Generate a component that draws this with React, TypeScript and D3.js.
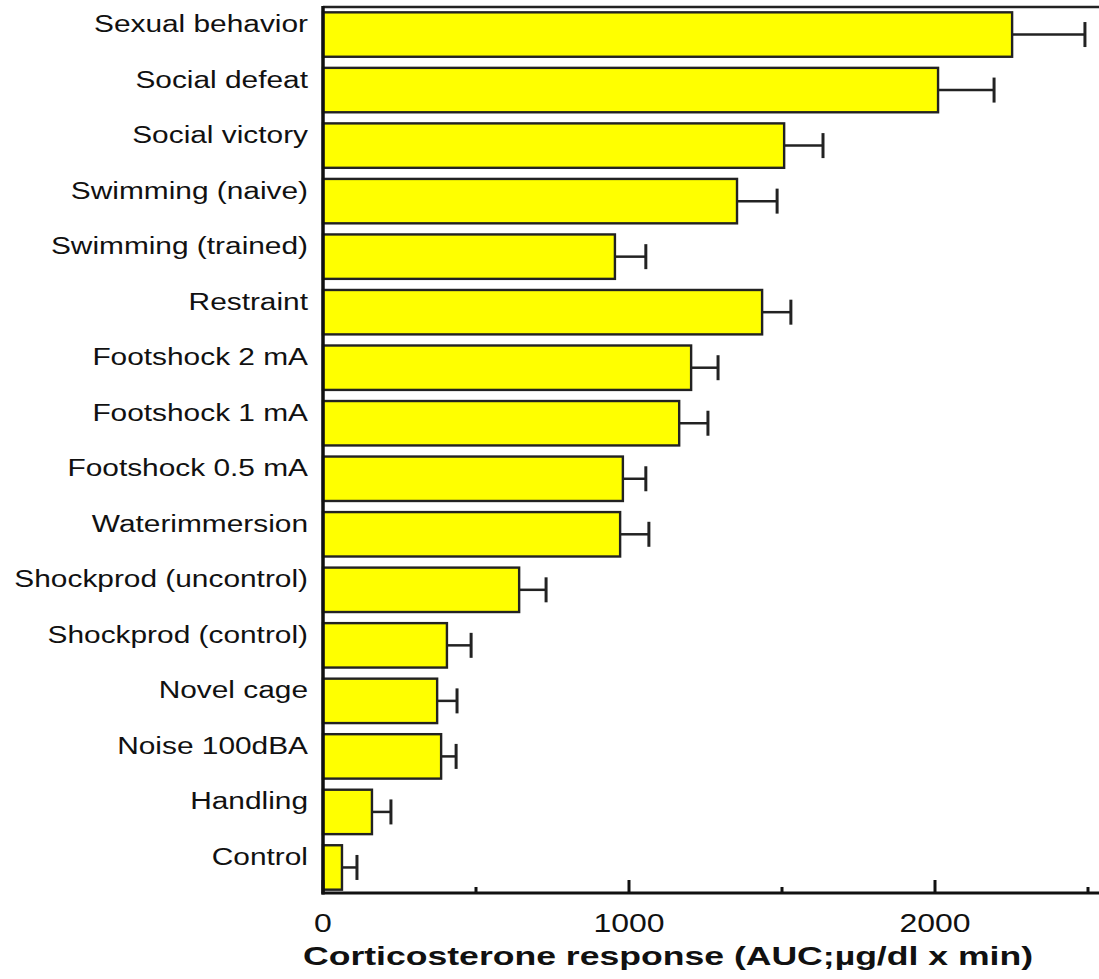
import React from "react";
import * as d3 from "d3";

const categories = [
  "Sexual behavior",
  "Social defeat",
  "Social victory",
  "Swimming (naive)",
  "Swimming (trained)",
  "Restraint",
  "Footshock 2 mA",
  "Footshock 1 mA",
  "Footshock 0.5 mA",
  "Waterimmersion",
  "Shockprod (uncontrol)",
  "Shockprod (control)",
  "Novel cage",
  "Noise 100dBA",
  "Handling",
  "Control",
];
const values = [2252, 2010, 1507, 1353, 954, 1435, 1203, 1164, 980, 971, 641, 405, 373, 386, 160, 62];
const errors = [238, 183, 127, 131, 101, 94, 88, 94, 75, 94, 88, 79, 65, 49, 62, 49];
const majorTicks = [0, 1000, 2000];
const minorTicks = [500, 1500, 2500];
const xTitle = "Corticosterone response (AUC;\u00b5g/dl x min)";

const W = 1099;
const H = 979;
const FONT = "'Liberation Sans', Arial, Helvetica, sans-serif";

export default function App() {
  const x = d3.scaleLinear().domain([0, 2500]).range([323, 1088]);
  const y = d3
    .scaleBand<string>()
    .domain(categories)
    .range([9, 893])
    .paddingInner(0.2)
    .paddingOuter(0.06);
  const bw = y.bandwidth();
  const axisY = 893;
  const capH = 25;
  const sx = 1.27;

  return (
    <svg
      width={W}
      height={H}
      style={{ position: "absolute", left: 0, top: 0, background: "#fff" }}
      fontFamily={FONT}
    >
      <rect x={0} y={0} width={W} height={H} fill="#fff" />
      {/* top frame */}
      <line x1={x(0)} x2={W} y1={7} y2={7} stroke="#222" strokeWidth={2.5} />
      {/* bars */}
      {categories.map((c, i) => {
        const y0 = y(c)!;
        const cy = y0 + bw / 2;
        const v = values[i];
        const e = errors[i];
        return (
          <g key={c}>
            <line x1={x(v)} x2={x(v + e)} y1={cy} y2={cy} stroke="#222" strokeWidth={2.5} />
            <line
              x1={x(v + e)}
              x2={x(v + e)}
              y1={cy - capH / 2}
              y2={cy + capH / 2}
              stroke="#222"
              strokeWidth={3}
            />
            <rect
              x={x(0)}
              y={y0}
              width={x(v) - x(0)}
              height={bw}
              fill="#ffff00"
              stroke="#222"
              strokeWidth={2.4}
            />
            <text
              transform={`translate(308,${cy - 2.5}) scale(${sx},1)`}
              textAnchor="end"
              fontSize={23.5}
              fill="#111"
            >
              {c}
            </text>
          </g>
        );
      })}
      {/* axes */}
      <line x1={x(0)} x2={x(0)} y1={6} y2={axisY + 1.5} stroke="#111" strokeWidth={3.5} />
      <line x1={x(0) - 1.5} x2={W} y1={axisY} y2={axisY} stroke="#111" strokeWidth={3} />
      {majorTicks.map((t) => (
        <g key={"M" + t}>
          <line x1={x(t)} x2={x(t)} y1={axisY} y2={axisY - 13} stroke="#111" strokeWidth={3} />
          <text
            transform={`translate(${x(t)},932) scale(1.28,1)`}
            textAnchor="middle"
            fontSize={25}
            fill="#111"
          >
            {t}
          </text>
        </g>
      ))}
      {minorTicks.map((t) => (
        <line key={"m" + t} x1={x(t)} x2={x(t)} y1={axisY} y2={axisY - 6} stroke="#111" strokeWidth={3} />
      ))}
      <text
        x={303}
        y={965}
        fontSize={25}
        fontWeight="bold"
        fill="#111"
        textLength={730}
        lengthAdjust="spacingAndGlyphs"
      >
        {xTitle}
      </text>
    </svg>
  );
}
